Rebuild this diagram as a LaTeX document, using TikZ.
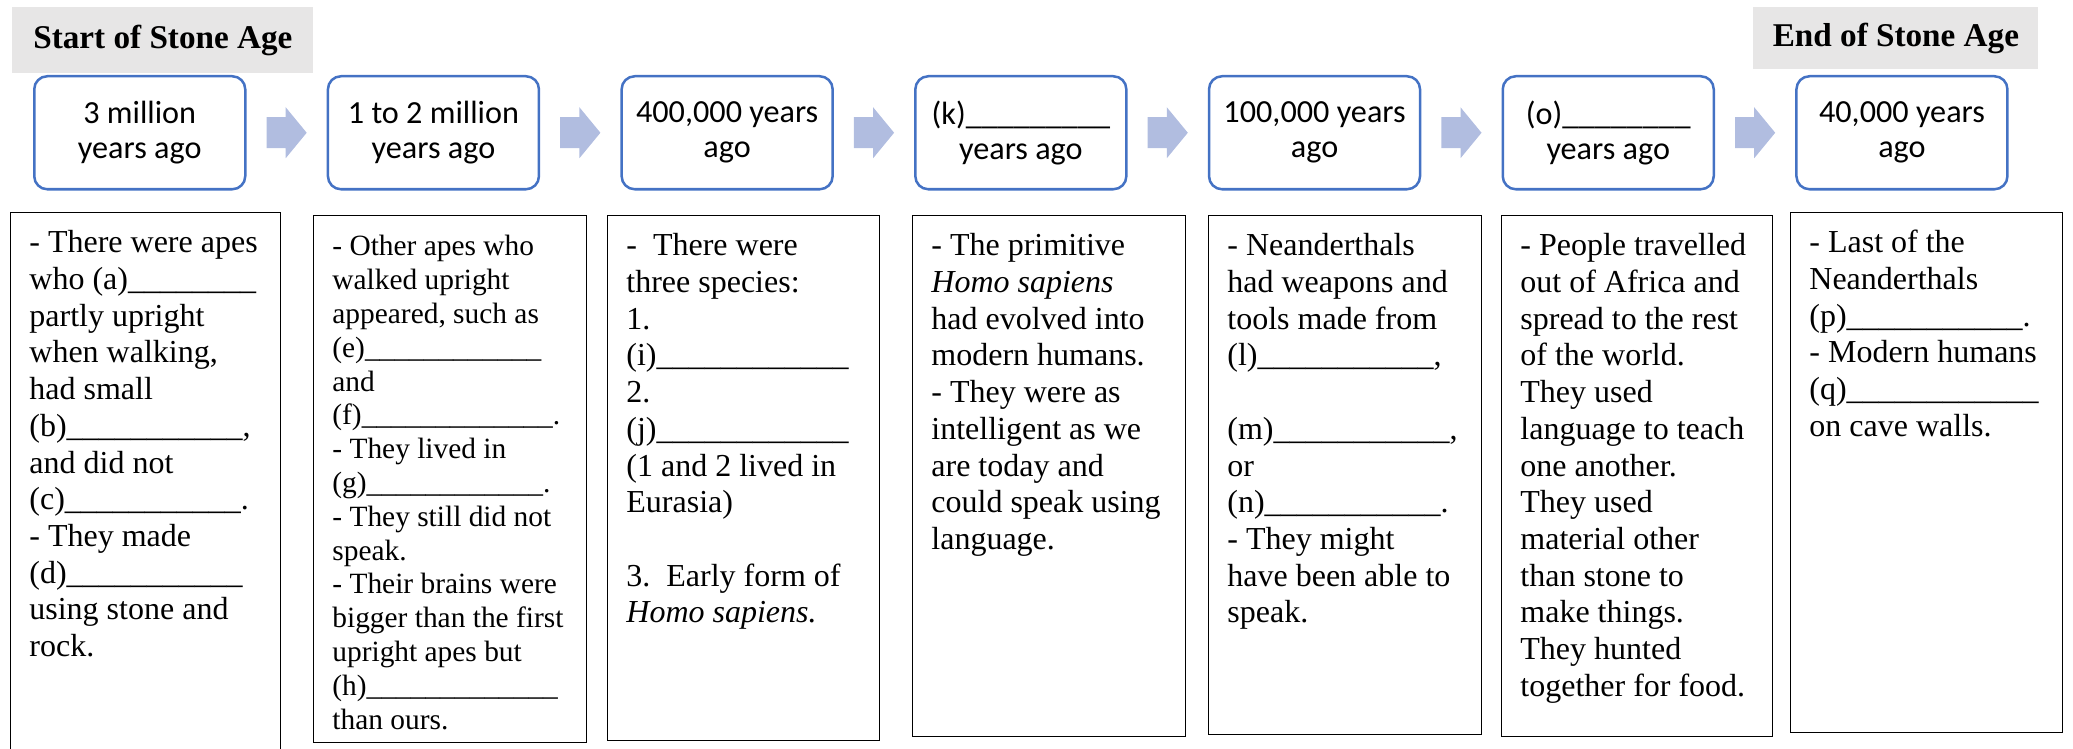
\documentclass[tikz,border=0pt]{standalone}
\usepackage{fontspec}
\setmainfont{Liberation Serif}
\newfontfamily\calfont{Carlito}
\usetikzlibrary{calc}
\definecolor{boxblue}{HTML}{4472C4}
\definecolor{arrowfill}{HTML}{B1BDE0}
\definecolor{hdrgray}{HTML}{E7E6E6}
\ExplSyntaxOn
\NewDocumentCommand\blank{m}{\prg_replicate:nn{#1}{\textunderscore}}
\ExplSyntaxOff
\tikzset{
  topbox/.style={draw=boxblue, line width=1.25pt, rounded corners=6.5pt, fill=white,
    minimum width=105.5pt, minimum height=56.5pt, inner sep=0pt, align=center,
    anchor=north west, font=\calfont\fontsize{16.1}{17.5}\selectfont},
  hdr/.style={fill=hdrgray, inner sep=0pt, anchor=north west,
    font=\bfseries\fontsize{16.6}{19}\selectfont},
  infobox/.style={draw=black, line width=0.65pt, inner sep=0pt, anchor=north west},
  infotext/.style={inner sep=0pt, anchor=north west, align=left,
    font=\fontsize{16}{18.35}\selectfont},
  smalltext/.style={inner sep=0pt, anchor=north west, align=left,
    font=\fontsize{14.7}{16.9}\selectfont},
  flow/.style={fill=arrowfill},
}
\begin{document}
\begin{tikzpicture}[x=0.5pt,y=-0.5pt]
\clip (0,0) rectangle (2073,749);
% headers
\node[hdr, minimum width=150.5pt, minimum height=33pt] (hs) at (12,7) {Start of Stone Age};
\node[hdr, minimum width=142.5pt, minimum height=31pt] (he) at (1753,7) {End of Stone Age};
% timeline boxes
\node[topbox] (t1) at (33,75) {3 million\\years ago};
\node[topbox] (t2) at (326.7,75) {1 to 2 million\\years ago};
\node[topbox] (t3) at (620.4,75) {400,000 years\\ago};
\node[topbox] (t4) at (914.1,75) {(k)\blank{9}\\years ago};
\node[topbox] (t5) at (1207.8,75) {100,000 years\\ago};
\node[topbox] (t6) at (1501.5,75) {(o)\blank{8}\\years ago};
\node[topbox] (t7) at (1795.2,75) {40,000 years\\ago};
% block arrows
\foreach \a/\b in {t1/t2,t2/t3,t3/t4,t4/t5,t5/t6,t6/t7}
  \fill[flow] ($(\a.east)+(20,-15.5)$) -- ($(\b.west)+(-41,-15.5)$)
    -- ($(\b.west)+(-41,-25.5)$) -- ($(\b.west)+(-20,0)$)
    -- ($(\b.west)+(-41,25.5)$) -- ($(\b.west)+(-41,15.5)$)
    -- ($(\a.east)+(20,15.5)$) -- cycle;
% info boxes
\node[infobox, minimum width=135pt, minimum height=274pt] (b1) at (10,212) {};
\node[infobox, minimum width=136.5pt, minimum height=263.5pt] (b2) at (313,215) {};
\node[infobox, minimum width=136pt, minimum height=262.5pt] (b3) at (607,215) {};
\node[infobox, minimum width=136.5pt, minimum height=260.5pt] (b4) at (912,215) {};
\node[infobox, minimum width=136.5pt, minimum height=259.5pt] (b5) at (1208,215) {};
\node[infobox, minimum width=135.5pt, minimum height=260.5pt] (b6) at (1501,215) {};
\node[infobox, minimum width=136pt, minimum height=260pt] (b7) at (1790,212) {};
% info texts
\node[infotext] (b1t) at ($(b1.north west)+(19,14.8)$) {\strut- There were apes\\
who (a)\blank{8}\\
partly upright\\
when walking,\\
had small\\
(b)\blank{11},\\
and did not\\
(c)\blank{11}.\\
- They made\\
(d)\blank{11}\\
using stone and\\
rock.};
\node[smalltext] (b2t) at ($(b2.north west)+(19,16.8)$) {\strut- Other apes who\\
walked upright\\
appeared, such as\\
(e)\blank{12}\\
and\\
(f)\blank{13}.\\
- They lived in\\
(g)\blank{12}.\\
- They still did not\\
speak.\\
- Their brains were\\
bigger than the first\\
upright apes but\\
(h)\blank{13}\\
than ours.};
\node[infotext] (b3t) at ($(b3.north west)+(19,14.8)$) {\strut-\ \ There were\\
three species:\\
1.\\
(i)\blank{12}\\
2.\\
(j)\blank{12}\\
(1 and 2 lived in\\
Eurasia)\\[18.35pt]
3.\ \ Early form of\\
\textit{Homo sapiens.}};
\node[infotext] (b4t) at ($(b4.north west)+(19,14.8)$) {\strut- The primitive\\
\textit{Homo sapiens}\\
had evolved into\\
modern humans.\\
- They were as\\
intelligent as we\\
are today and\\
could speak using\\
language.};
\node[infotext] (b5t) at ($(b5.north west)+(19,14.8)$) {\strut- Neanderthals\\
had weapons and\\
tools made from\\
(l)\blank{11},\\[18.35pt]
(m)\blank{11},\\
or\\
(n)\blank{11}.\\
- They might\\
have been able to\\
speak.};
\node[infotext] (b6t) at ($(b6.north west)+(19,14.8)$) {\strut- People travelled\\
out of Africa and\\
spread to the rest\\
of the world.\\
They used\\
language to teach\\
one another.\\
They used\\
material other\\
than stone to\\
make things.\\
They hunted\\
together for food.};
\node[infotext] (b7t) at ($(b7.north west)+(19,14.8)$) {\strut- Last of the\\
Neanderthals\\
(p)\blank{11}.\\
- Modern humans\\
(q)\blank{12}\\
on cave walls.};
\end{tikzpicture}
\end{document}
